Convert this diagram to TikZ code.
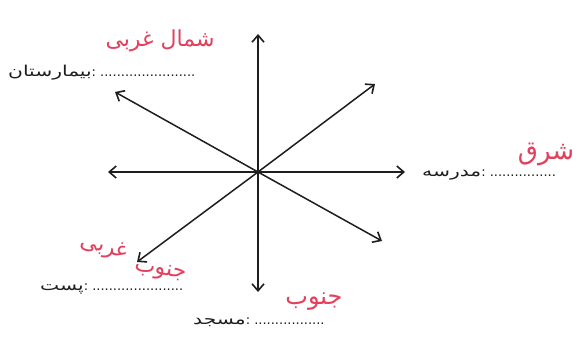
\documentclass[tikz,border=0pt]{standalone}
\usepackage{fontspec}
\newfontfamily\farsi[Script=Arabic]{DejaVu Sans}
\newfontfamily\farsiwide[Script=Arabic,FakeStretch=1.35]{DejaVu Sans}
\TeXXeTstate=1
\usetikzlibrary{arrows.meta,positioning}
\definecolor{ink}{RGB}{30,30,32}
\definecolor{pen}{RGB}{226,64,92}

\tikzset{
  ray/.style={draw=ink,line width=1.5pt,
    -{Straight Barb[length=7pt,width=12pt,line width=1.6pt]}},
  place/.style={inner sep=0pt,text=ink,
    font=\farsiwide\fontsize{15}{17}\selectfont},
  hand/.style={inner sep=0pt,text=pen,
    font=\farsi\fontsize{22}{26}\selectfont},
}
\newcommand\blank[1]{{\farsi\fontsize{13}{15}\selectfont:\ #1}}

\begin{document}
\begin{tikzpicture}[x=1pt,y=-1pt]
  \useasboundingbox[fill=white] (0,0) rectangle (577,345);

  % centre of the compass and the eight tips
  \coordinate (c)  at (258,172);
  \coordinate (n)  at (258,34);
  \coordinate (s)  at (258,292);
  \coordinate (e)  at (405,172);
  \coordinate (w)  at (108,172);
  \coordinate (ne) at (375,84);
  \coordinate (nw) at (115,92);
  \coordinate (se) at (382,241);
  \coordinate (sw) at (137,262);

  \foreach \tip in {n,s,e,w,ne,nw,se,sw}
    \draw[ray] (c) -- (\tip);

  % printed labels
  \node[place,anchor=west] (hospital) at (8,73)
    {\beginR بیمارستان\endR\blank{.......................}};
  \node[place,anchor=west] (school) at (422,175)
    {\beginR مدرسه\endR\blank{................}};
  \node[place,anchor=west] (post) at (40,289)
    {\beginR پست\endR\blank{......................}};
  \node[place,anchor=west] (mosque) at (193,322)
    {\beginR مسجد\endR\blank{.................}};

  % handwritten answers
  \node[hand] (northwest) at (160,41) {\beginR شمال غربی\endR};
  \node[hand,font=\farsi\fontsize{26}{30}\selectfont] (east) at (546,154)
    {\beginR شرق\endR};
  \node[hand,rotate=-15] (southwest-b) at (104,248) {\beginR غربی\endR};
  \node[hand,rotate=-10] (southwest-a) at (160,272) {\beginR جنوب\endR};
  \node[hand,font=\farsi\fontsize{24}{28}\selectfont] (south) at (314,302)
    {\beginR جنوب\endR};
\end{tikzpicture}
\end{document}
